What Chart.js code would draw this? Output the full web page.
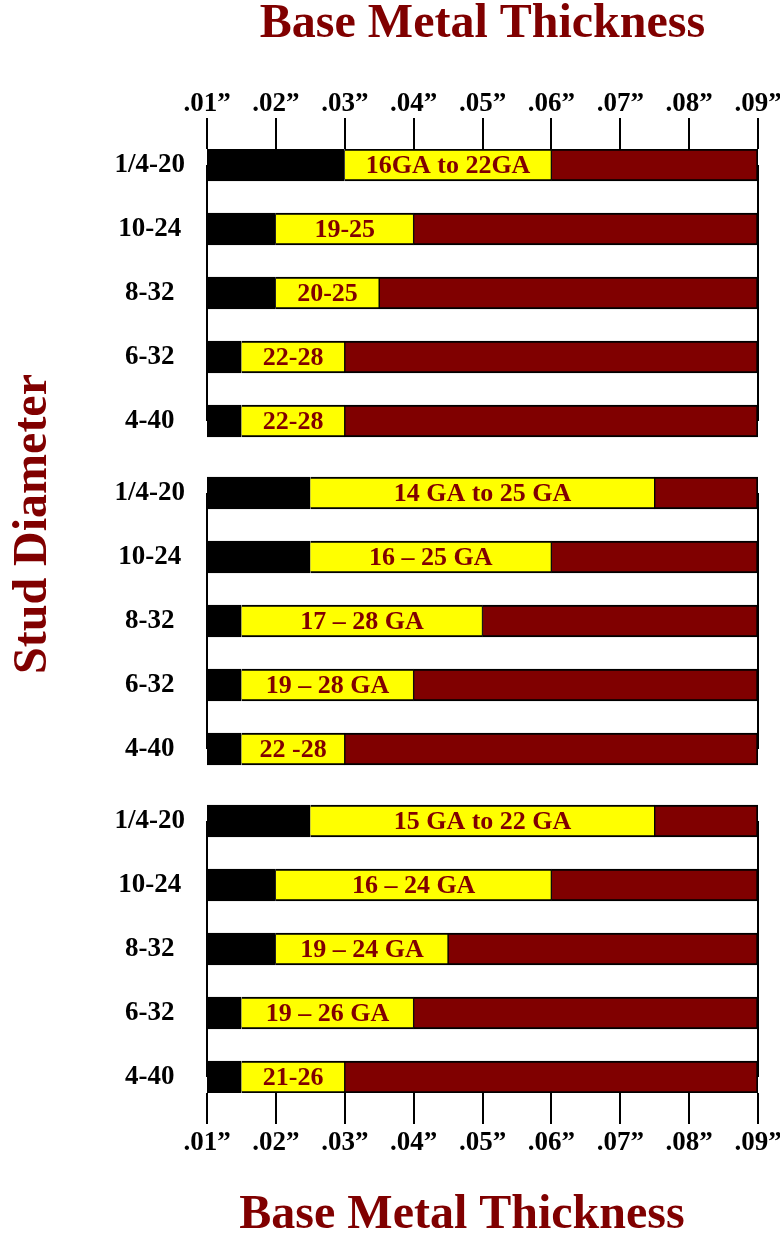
<!DOCTYPE html>
<html>
<head>
<meta charset="utf-8">
<script src="https://cdn.jsdelivr.net/npm/chart.js@4.4.1/dist/chart.umd.min.js"></script>
<style>
  body { margin: 0; background: #fff; }
  canvas { display: block; }
</style>
</head>
<body>
<canvas id="studChart" width="780" height="1235"></canvas>
<script>
// ================= data =================
const studLabels = ["1/4-20", "10-24", "8-32", "6-32", "4-40"]; // per group, top to bottom
const xTicks = [0.01, 0.02, 0.03, 0.04, 0.05, 0.06, 0.07, 0.08, 0.09];
const rangeMin = 0.01;
const rangeMax = 0.09;
// start of yellow band (end of black) for each group
const group1Start = [0.03, 0.02, 0.02, 0.015, 0.015];
const group2Start = [0.025, 0.025, 0.015, 0.015, 0.015];
const group3Start = [0.025, 0.02, 0.02, 0.015, 0.015];
// end of yellow band (start of dark red)
const group1End = [0.06, 0.04, 0.035, 0.03, 0.03];
const group2End = [0.075, 0.06, 0.05, 0.04, 0.03];
const group3End = [0.075, 0.06, 0.045, 0.04, 0.03];
// gauge text inside the yellow band
const group1Text = ["16GA to 22GA", "19-25", "20-25", "22-28", "22-28"];
const group2Text = ["14 GA to 25 GA", "16 \u2013 25 GA", "17 \u2013 28 GA", "19 \u2013 28 GA", "22 -28"];
const group3Text = ["15 GA to 22 GA", "16 \u2013 24 GA", "19 \u2013 24 GA", "19 \u2013 26 GA", "21-26"];

// ================= layout helpers =================
const GROUP_STEP = 5.125; // rows per group incl. the gap
const FONT = "'Liberation Serif', 'Times New Roman', serif";
const DARK_RED = "#800000";
const starts = [group1Start, group2Start, group3Start];
const ends = [group1End, group2End, group3End];
const texts = [group1Text, group2Text, group3Text];

const rowPos = []; // y value of each bar
const blackData = [];
const yellowData = [];
const redData = [];
const bandText = [];
for (let g = 0; g < 3; g++) {
  for (let r = 0; r < studLabels.length; r++) {
    const y = g * GROUP_STEP + r;
    rowPos.push(y);
    blackData.push({ x: [rangeMin, starts[g][r]], y: y });
    yellowData.push({ x: [starts[g][r], ends[g][r]], y: y });
    redData.push({ x: [ends[g][r], rangeMax], y: y });
    bandText.push(texts[g][r]);
  }
}

// connector lines at .01 and .09 inside each group, text in yellow bands, side titles
const decorPlugin = {
  id: "decor",
  beforeDatasetsDraw(chart) {
    const ctx = chart.ctx;
    const x = chart.scales.x;
    const y = chart.scales.y;
    ctx.save();
    ctx.strokeStyle = "#000";
    ctx.lineWidth = 2;
    for (let g = 0; g < 3; g++) {
      const top = y.getPixelForValue(g * GROUP_STEP);
      const bottom = y.getPixelForValue(g * GROUP_STEP + studLabels.length - 1);
      [rangeMin, rangeMax].forEach((v) => {
        const px = x.getPixelForValue(v);
        ctx.beginPath();
        ctx.moveTo(px, top);
        ctx.lineTo(px, bottom);
        ctx.stroke();
      });
    }
    ctx.restore();
  },
  afterDatasetsDraw(chart) {
    const ctx = chart.ctx;
    const meta = chart.getDatasetMeta(1);
    ctx.save();
    ctx.fillStyle = DARK_RED;
    ctx.font = "bold 26px " + FONT;
    ctx.textAlign = "center";
    ctx.textBaseline = "middle";
    meta.data.forEach((bar, i) => {
      ctx.fillText(bandText[i], (bar.x + bar.base) / 2, bar.y + 1);
    });
    ctx.restore();
  },
  afterDraw(chart) {
    const ctx = chart.ctx;
    ctx.save();
    ctx.fillStyle = DARK_RED;
    ctx.font = "bold 48px " + FONT;
    ctx.textAlign = "center";
    ctx.textBaseline = "alphabetic";
    ctx.fillText("Base Metal Thickness", 462, 1228);
    ctx.translate(46, 524);
    ctx.rotate(-Math.PI / 2);
    ctx.fillText("Stud Diameter", 0, 0);
    ctx.restore();
  },
};

const tickFont = { family: FONT, size: 27, weight: "bold", lineHeight: 1 };
const xTickCallback = (v) => "." + String(Math.round(v * 100)).padStart(2, "0") + "\u201d";
const setXTicks = (axis) => {
  axis.ticks = xTicks.map((v) => ({ value: v }));
};
// fixed axis box, no extra room for overhanging labels
const fixHeight = (h) => (scale) => {
  scale.height = h;
  scale.paddingLeft = 0;
  scale.paddingRight = 0;
};

const segment = (data, color, bw) => ({
  data: data,
  backgroundColor: color,
  borderColor: "#000",
  borderWidth: bw,
  borderSkipped: false,
  barThickness: 32,
  grouped: false,
});

new Chart(document.getElementById("studChart"), {
  type: "bar",
  data: {
    datasets: [
      segment(blackData, "#000000", { top: 2, bottom: 2, left: 2, right: 0 }),
      segment(yellowData, "#ffff00", { top: 2, bottom: 2, left: 0, right: 1 }),
      segment(redData, DARK_RED, { top: 2, bottom: 2, left: 1, right: 2 }),
    ],
  },
  options: {
    indexAxis: "y",
    responsive: false,
    animation: false,
    layout: { padding: { left: 0, right: 22, top: 0, bottom: 0 } },
    plugins: { legend: { display: false }, tooltip: { enabled: false } },
    scales: {
      x: {
        type: "linear",
        position: "top",
        min: rangeMin,
        max: rangeMax,
        afterBuildTicks: setXTicks,
        afterFit: fixHeight(149),
        border: { display: false },
        grid: { drawOnChartArea: false, drawTicks: true, tickLength: 31, color: "#000", lineWidth: 2 },
        ticks: { color: "#000", font: tickFont, padding: 0, maxRotation: 0, autoSkip: false, callback: xTickCallback },
        title: {
          display: true,
          text: "Base Metal Thickness",
          color: DARK_RED,
          font: { family: FONT, size: 48, weight: "bold", lineHeight: 1 },
          padding: { top: 1, bottom: 0 },
        },
      },
      x2: {
        type: "linear",
        position: "bottom",
        min: rangeMin,
        max: rangeMax,
        afterBuildTicks: setXTicks,
        afterFit: fixHeight(142),
        border: { display: false },
        grid: { drawOnChartArea: false, drawTicks: true, tickLength: 31, color: "#000", lineWidth: 2 },
        ticks: { color: "#000", font: tickFont, padding: 6, maxRotation: 0, autoSkip: false, callback: xTickCallback },
      },
      y: {
        type: "linear",
        reverse: true,
        offset: false,
        min: -0.25,
        max: 2 * GROUP_STEP + studLabels.length - 1 + 0.25,
        afterBuildTicks: (axis) => {
          axis.ticks = rowPos.map((v) => ({ value: v }));
        },
        afterFit: (scale) => { scale.width = 207; },
        border: { display: false },
        grid: { display: false, drawTicks: false },
        ticks: {
          color: "#000",
          font: tickFont,
          crossAlign: "center",
          padding: 22,
          autoSkip: false,
          callback: (v, i) => studLabels[i % studLabels.length],
        },
      },
    },
  },
  plugins: [decorPlugin],
});
</script>
</body>
</html>
